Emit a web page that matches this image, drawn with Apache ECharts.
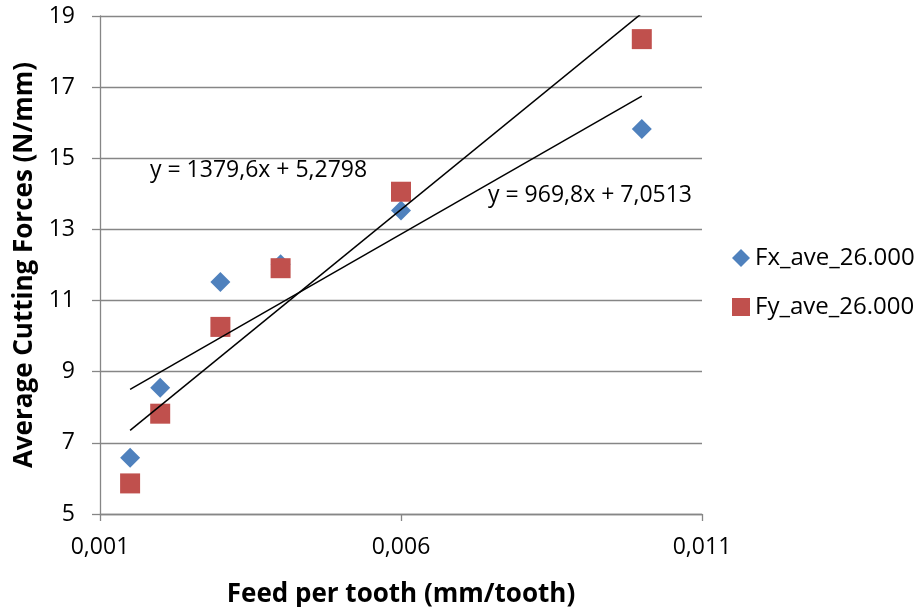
<!DOCTYPE html>
<html><head><meta charset="utf-8">
<script src="https://cdn.jsdelivr.net/npm/echarts@6/dist/echarts.min.js"></script>
<style>html,body{margin:0;padding:0;background:#fff}#c{width:918px;height:607px}</style>
</head><body><div id="c"></div>
<script>
const feed = [0.0015, 0.002, 0.003, 0.004, 0.006, 0.010];
const fxValues = [6.58, 8.55, 11.52, 12.02, 13.53, 15.82];
const fyValues = [5.86, 7.82, 10.26, 11.91, 14.06, 18.35];
const trendX = [0.0015, 0.010];
const fxTrendY = [8.506, 16.749];
const fyTrendY = [7.349, 19.076];
const xTicks = ['0,001', '0,006', '0,011'];
const yTicks = [5, 7, 9, 11, 13, 15, 17, 19];
const seriesNames = ['Fx_ave_26.000', 'Fy_ave_26.000'];
const fxEquation = 'y = 969,8x + 7,0513';
const fyEquation = 'y = 1379,6x + 5,2798';

const FONT = 'Open Sans';
const pair = (xs, ys) => xs.map((x, i) => [x, ys[i]]);

const chart = echarts.init(document.getElementById('c'), null, {renderer: 'canvas'});
chart.setOption({
  animation: false,
  backgroundColor: '#ffffff',
  textStyle: {fontFamily: FONT},
  grid: {left: 100, right: 216, top: 16, bottom: 93, containLabel: false, outerBoundsMode: 'none'},
  legend: {
    data: [{name: seriesNames[0], icon: 'diamond'}, {name: seriesNames[1], icon: 'rect'}],
    orient: 'vertical', left: 727, top: 241, itemGap: 25,
    itemWidth: 18, itemHeight: 18,
    textStyle: {fontFamily: FONT, fontSize: 24, color: '#000', padding: [0, 0, 0, 0]}
  },
  xAxis: {
    type: 'value', min: 0.001, max: 0.011, interval: 0.005,
    name: 'Feed per tooth (mm/tooth)', nameLocation: 'middle', nameGap: 68,
    nameTextStyle: {fontFamily: FONT, fontSize: 26, fontWeight: 'bold', color: '#000'},
    axisLine: {show: true, lineStyle: {color: '#868686', width: 1.3}},
    axisTick: {show: true, length: 7, lineStyle: {color: '#868686', width: 1.3}},
    axisLabel: {fontFamily: FONT, fontSize: 23, color: '#000', margin: 22,
      formatter: v => { const i = Math.round((v - 0.001) / 0.005); return xTicks[i] !== undefined ? xTicks[i] : ''; }},
    splitLine: {show: false}
  },
  yAxis: {
    type: 'value', min: yTicks[0], max: yTicks[yTicks.length - 1], interval: 2,
    name: 'Average Cutting Forces (N/mm)', nameLocation: 'middle', nameGap: 62,
    nameTextStyle: {fontFamily: FONT, fontSize: 26, fontWeight: 'bold', color: '#000'},
    axisLine: {show: true, lineStyle: {color: '#868686', width: 1.3}},
    axisTick: {show: true, length: 8, lineStyle: {color: '#868686', width: 1.3}},
    axisLabel: {fontFamily: FONT, fontSize: 23, color: '#000', margin: 25},
    splitLine: {show: true, lineStyle: {color: '#868686', width: 1.3}}
  },
  graphic: [
    {type: 'text', left: 150, top: 159, style: {text: fyEquation, font: '23px ' + FONT, fill: '#000'}},
    {type: 'text', left: 488, top: 184, style: {text: fxEquation, font: '23px ' + FONT, fill: '#000'}}
  ],
  series: [
    {name: seriesNames[0], type: 'scatter', symbol: 'diamond', symbolSize: 20,
      itemStyle: {color: '#4F81BD', opacity: 1}, data: pair(feed, fxValues), z: 2},
    {name: seriesNames[1], type: 'scatter', symbol: 'rect', symbolSize: 20,
      itemStyle: {color: '#C0504D', opacity: 1}, data: pair(feed, fyValues), z: 3},
    {name: 'fxTrend', type: 'line', showSymbol: false, symbol: 'none', clip: true,
      lineStyle: {color: '#000', width: 1.5}, data: pair(trendX, fxTrendY), z: 4, silent: true},
    {name: 'fyTrend', type: 'line', showSymbol: false, symbol: 'none', clip: true,
      lineStyle: {color: '#000', width: 1.5}, data: pair(trendX, fyTrendY), z: 4, silent: true}
  ]
});
</script>
</body></html>
